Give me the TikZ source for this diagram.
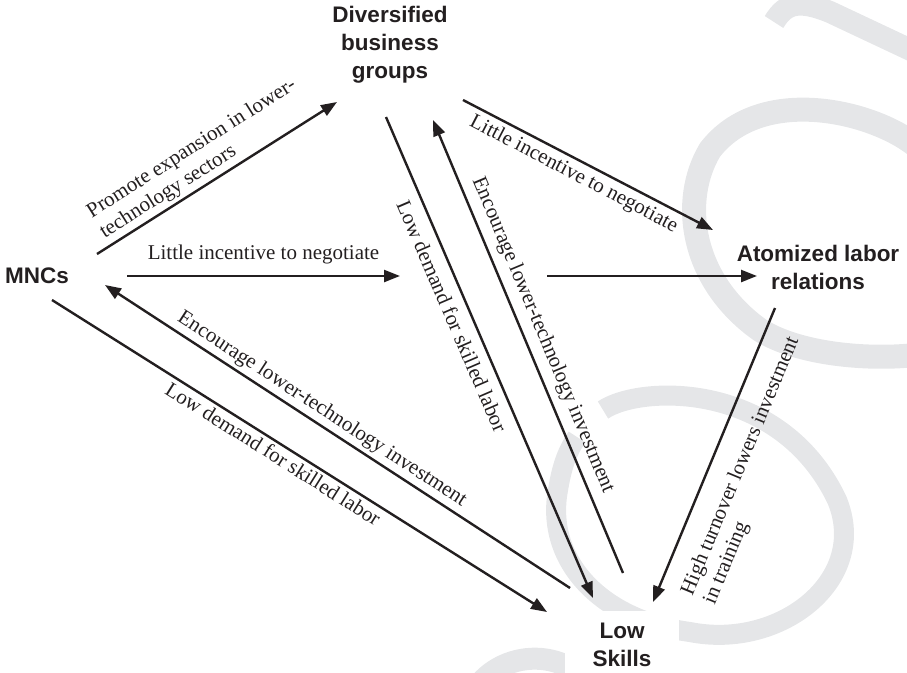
\documentclass[tikz,border=0pt]{standalone}
\usepackage{fontspec}
\setmainfont{Liberation Serif}
\setsansfont{Liberation Sans}
\usetikzlibrary{arrows.meta}
\definecolor{ink}{RGB}{35,31,32}
\definecolor{wmgray}{RGB}{229,230,232}
\begin{document}
\begin{tikzpicture}[x=1pt,y=1pt,
    box/.style={align=center,text=ink,font=\sffamily\bfseries\fontsize{22.5}{28}\selectfont},
    arr/.style={draw=ink,line width=2.4pt,-{Triangle[length=16pt,width=12pt]}},
    lbl/.style={sloped,text=ink,font=\fontsize{21}{24}\selectfont},
    wm/.style={draw=wmgray,line width=24pt}]
  \useasboundingbox (0,0) rectangle (907,-672);
  \begin{scope}
    \clip (0,0) rectangle (907,-672);
    \draw[wm,line width=22pt] (774,-22) .. controls (786,-2) and (800,0) .. (830,-12) -- (915,-52);
    \draw[wm] (915,-145) .. controls (870,-110) and (760,-85) .. (710,-150) .. controls (680,-200) and (690,-280) .. (760,-330) .. controls (800,-355) and (870,-360) .. (915,-355);
    \draw[wm,line width=20pt] (603,-410) .. controls (640,-385) and (780,-380) .. (837,-500) .. controls (870,-580) and (780,-650) .. (690,-632) .. controls (600,-620) and (545,-560) .. (558,-490) .. controls (562,-465) and (568,-450) .. (577,-437);
    \draw[wm,line width=22pt] (470,-700) .. controls (490,-650) and (570,-640) .. (600,-700);
  \end{scope}
  \node[box] (mnc) at (37,-276) {MNCs};
  \node[box] (div) at (390,-45) {Diversified\\business\\groups};
  \node[box] (atom) at (818,-267) {Atomized labor\\relations};
  \node[box,fill=white,inner xsep=28pt,inner ysep=12pt] (low) at (622,-645) {Low\\Skills};
  \coordinate (gapl) at (400,-276); \coordinate (gapr) at (547,-276);
  \draw[arr] ([shift={(60,22)}]mnc.center) -- node[lbl,above,align=left,pos=.48]{Promote expansion in lower-\\technology sectors} ([shift={(-53,-57)}]div.center);
  \draw[arr] ([shift={(90,0)}]mnc.center) -- node[lbl,above=7pt]{Little incentive to negotiate} (gapl);
  \draw[arr] (gapr) -- ([shift={(-61,-9)}]atom.center);
  \draw[arr] ([shift={(73,-55)}]div.center) -- node[lbl,below=1pt,pos=.47]{Little incentive to negotiate} ([shift={(-105,37)}]atom.center);
  \draw[arr] ([shift={(-4,-72)}]div.center) -- node[lbl,below=6pt,pos=.4]{Low demand for skilled labor} ([shift={(-29,47)}]low.center);
  \draw[arr] ([shift={(1,72)}]low.center) -- node[lbl,above=4pt,pos=.51]{Encourage lower-technology investment} ([shift={(43,-75)}]div.center);
  \draw[arr] ([shift={(-52,57)}]low.center) -- node[lbl,above,pos=.55]{Encourage lower-technology investment} ([shift={(68,-9)}]mnc.center);
  \draw[arr] ([shift={(15,-24)}]mnc.center) -- node[lbl,below,pos=.46]{Low demand for skilled labor} ([shift={(-75,33)}]low.center);
  \draw[arr] ([shift={(-43,-41)}]atom.center) -- node[lbl,below=15pt,align=left,pos=.5]{High turnover lowers investment\\in training} ([shift={(31,43)}]low.center);
\end{tikzpicture}
\end{document}
